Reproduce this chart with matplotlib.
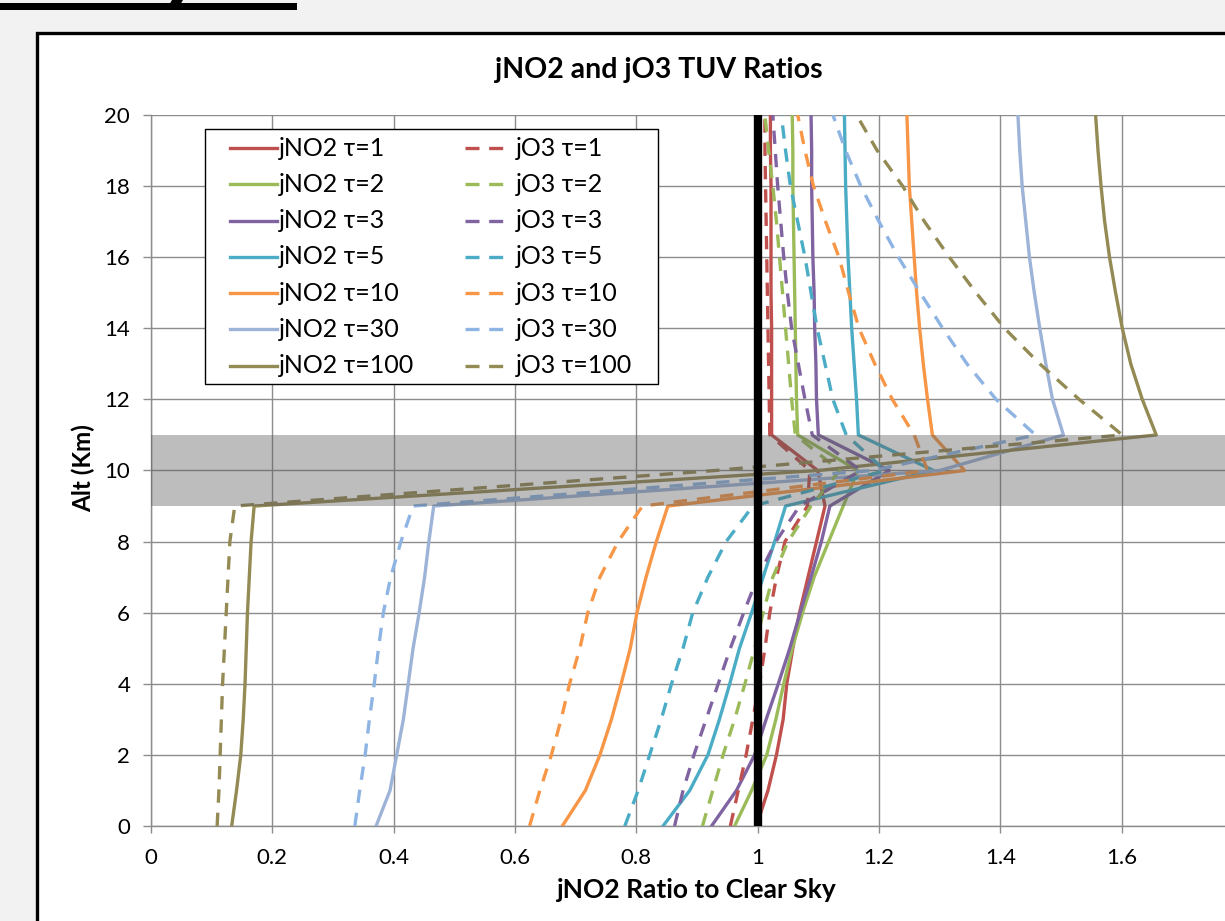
import matplotlib
matplotlib.use("Agg")
import matplotlib.pyplot as plt
from matplotlib.patches import Rectangle, Polygon
from matplotlib.lines import Line2D

plt.rcParams['font.family'] = ['Lato', 'DejaVu Sans']

# ---------------- data ----------------
alt = [0, 1, 2, 3, 4, 5, 6, 7, 8, 9, 10, 11, 12, 13, 14, 15, 16, 17, 18, 19, 20]

taus = ['1', '2', '3', '5', '10', '30', '100']

jno2_t1 = [0.998, 1.017, 1.031, 1.042, 1.048, 1.058, 1.069, 1.083, 1.097, 1.111, 1.099,
           1.023, 1.023, 1.023, 1.023, 1.022, 1.022, 1.022, 1.022, 1.021, 1.021]
jno2_t2 = [0.962, 0.990, 1.015, 1.030, 1.043, 1.057, 1.074, 1.093, 1.117, 1.141, 1.165,
           1.066, 1.064, 1.063, 1.062, 1.061, 1.060, 1.059, 1.058, 1.058, 1.057]
jno2_t3 = [0.924, 0.965, 0.995, 1.014, 1.034, 1.053, 1.070, 1.088, 1.105, 1.119, 1.217,
           1.100, 1.097, 1.096, 1.094, 1.093, 1.091, 1.090, 1.089, 1.089, 1.088]
jno2_t5 = [0.844, 0.888, 0.918, 0.937, 0.954, 0.970, 0.990, 1.009, 1.028, 1.046, 1.290,
           1.166, 1.163, 1.159, 1.155, 1.152, 1.149, 1.147, 1.145, 1.144, 1.143]
jno2_t10 = [0.678, 0.716, 0.740, 0.759, 0.775, 0.790, 0.801, 0.816, 0.833, 0.852, 1.341,
            1.288, 1.280, 1.273, 1.267, 1.262, 1.258, 1.254, 1.250, 1.248, 1.246]
jno2_t30 = [0.371, 0.394, 0.405, 0.416, 0.424, 0.432, 0.442, 0.451, 0.458, 0.466, 1.300,
            1.504, 1.486, 1.475, 1.465, 1.456, 1.448, 1.442, 1.436, 1.432, 1.429]
jno2_t100 = [0.133, 0.141, 0.148, 0.152, 0.155, 0.157, 0.159, 0.162, 0.165, 0.170, 1.100,
             1.657, 1.634, 1.615, 1.601, 1.590, 1.580, 1.572, 1.566, 1.561, 1.557]

jo3_t1 = [0.955, 0.968, 0.981, 0.992, 1.003, 1.012, 1.020, 1.031, 1.045, 1.082, 1.086,
          1.020, 1.019, 1.018, 1.017, 1.016, 1.015, 1.014, 1.013, 1.012, 1.012]
jo3_t2 = [0.909, 0.926, 0.943, 0.962, 0.979, 0.995, 1.009, 1.025, 1.050, 1.088, 1.135,
          1.062, 1.056, 1.051, 1.046, 1.041, 1.036, 1.031, 1.025, 1.018, 1.012]
jo3_t3 = [0.863, 0.877, 0.895, 0.915, 0.935, 0.955, 0.977, 1.000, 1.030, 1.069, 1.170,
          1.090, 1.078, 1.067, 1.056, 1.049, 1.043, 1.038, 1.033, 1.029, 1.025]
jo3_t5 = [0.781, 0.803, 0.822, 0.841, 0.858, 0.877, 0.893, 0.918, 0.948, 0.992, 1.210,
          1.146, 1.124, 1.111, 1.098, 1.088, 1.078, 1.066, 1.054, 1.046, 1.039]
jo3_t10 = [0.624, 0.641, 0.660, 0.676, 0.690, 0.707, 0.720, 0.740, 0.770, 0.810, 1.280,
           1.258, 1.222, 1.193, 1.167, 1.150, 1.134, 1.112, 1.092, 1.078, 1.066]
jo3_t30 = [0.336, 0.344, 0.353, 0.360, 0.368, 0.375, 0.383, 0.395, 0.412, 0.432, 1.190,
           1.458, 1.393, 1.345, 1.305, 1.268, 1.232, 1.200, 1.170, 1.145, 1.124]
jo3_t100 = [0.109, 0.112, 0.114, 0.116, 0.118, 0.121, 0.124, 0.127, 0.130, 0.138, 0.930,
            1.601, 1.530, 1.465, 1.407, 1.360, 1.316, 1.275, 1.239, 1.197, 1.163]

jno2_series = [jno2_t1, jno2_t2, jno2_t3, jno2_t5, jno2_t10, jno2_t30, jno2_t100]
jo3_series = [jo3_t1, jo3_t2, jo3_t3, jo3_t5, jo3_t10, jo3_t30, jo3_t100]

solid_colors = ['#C0504D', '#9BBB59', '#8064A2', '#4BACC6', '#F79646', '#9DB3D7', '#948A54']
dash_colors = ['#C0504D', '#9BBB59', '#8064A2', '#4BACC6', '#F79646', '#8EB4E3', '#948A54']

cloud_bottom, cloud_top = 9, 11
ref_x = 1.0

xticks = [0, 0.2, 0.4, 0.6, 0.8, 1.0, 1.2, 1.4, 1.6]
xticklabels = ['0', '0.2', '0.4', '0.6', '0.8', '1', '1.2', '1.4', '1.6']
yticks = [0, 2, 4, 6, 8, 10, 12, 14, 16, 18, 20]
yticklabels = ['0', '2', '4', '6', '8', '10', '12', '14', '16', '18', '20']

# ---------------- figure ----------------
W, H = 1225, 921
fig = plt.figure(figsize=(W / 100, H / 100), dpi=100)
fig.patch.set_facecolor('#F2F2F2')

def fx(px):
    return px / W

def fy(py):
    return 1 - py / H

# chart area frame
frame = Rectangle((fx(37), fy(1100)), fx(1400), fy(33) - fy(1100),
                  transform=fig.transFigure, facecolor='white',
                  edgecolor='black', linewidth=2.4, zorder=-10)
fig.patches.append(frame)
# stray header fragment at the top-left
fig.patches.append(Rectangle((fx(0), fy(10)), fx(297), fy(3) - fy(10),
                             transform=fig.transFigure, facecolor='black',
                             edgecolor='none', zorder=-5))
fig.patches.append(Polygon([(fx(166), fy(10)), (fx(177), fy(10)), (fx(183), fy(0)), (fx(172), fy(0))],
                           closed=True, transform=fig.transFigure, facecolor='black',
                           edgecolor='none', zorder=-5))

left, right, top, bottom = 151, 1243, 115, 826
ax = fig.add_axes([fx(left), fy(bottom), fx(right - left), fy(top) - fy(bottom)])
ax.set_zorder(1)
ax.set_facecolor('white')
ax.set_xlim(0, 1.8)
ax.set_ylim(0, 20)

grid_c = '#8C8C8C'
TICK_FS = 16
ax.set_xticks(xticks)
ax.set_xticklabels(xticklabels, fontsize=TICK_FS)
ax.set_yticks(yticks)
ax.set_yticklabels(yticklabels, fontsize=TICK_FS)
ax.grid(True, color=grid_c, linewidth=1.0, zorder=0)
ax.set_axisbelow(True)
for s in ['top', 'right']:
    ax.spines[s].set_visible(False)
for s in ['left', 'bottom']:
    ax.spines[s].set_color(grid_c)
    ax.spines[s].set_linewidth(1.0)
ax.tick_params(axis='y', direction='out', length=6, width=1, color=grid_c,
               pad=9, labelcolor='black')
ax.tick_params(axis='x', direction='out', length=5, width=1, color=grid_c,
               pad=11, labelcolor='black')

LW = 2.4
DASH = (0, (4, 3))
for i, t in enumerate(taus):
    ax.plot(jno2_series[i], alt, color=solid_colors[i], linewidth=LW, zorder=3)
for i, t in enumerate(taus):
    ax.plot(jo3_series[i], alt, color=dash_colors[i], linewidth=LW,
            linestyle=DASH, zorder=3)

# cloud layer shading (translucent, over the lines)
ax.axhspan(cloud_bottom, cloud_top, color='#5A5A5A', alpha=0.40, linewidth=0, zorder=4)

# clear-sky reference line
ax.plot([ref_x, ref_x], [alt[0], alt[-1]], color='black', linewidth=6, zorder=5,
        solid_capstyle='butt')

# legend (drawn as a boxed two-column key)
leg_ax = fig.add_axes([0, 0, 1, 1], facecolor='none')
leg_ax.set_zorder(5)
leg_ax.set_xlim(0, W)
leg_ax.set_ylim(H, 0)
leg_ax.axis('off')
leg_ax.add_patch(Rectangle((205, 129), 453, 255, facecolor='white', edgecolor='black',
                           linewidth=1.0))
row_y = [148 + 36.3 * k for k in range(len(taus))]
for k, t in enumerate(taus):
    y = row_y[k]
    leg_ax.add_line(Line2D([230, 277], [y, y], color=solid_colors[k], linewidth=LW))
    leg_ax.text(279, y, 'jNO2 τ=' + t, ha='left', va='center', fontsize=18)
    leg_ax.add_line(Line2D([465, 503], [y, y], color=dash_colors[k], linewidth=LW,
                           linestyle=(0, (4.2, 2.9))))
    leg_ax.text(516, y, 'jO3 τ=' + t, ha='left', va='center', fontsize=18)

fig.text(fx(659), fy(70), 'jNO2 and jO3 TUV Ratios', ha='center', va='center',
         fontsize=20.5, fontweight='bold')
fig.text(fx(697), fy(890), 'jNO2 Ratio to Clear Sky', ha='center', va='center',
         fontsize=19, fontweight='bold')
fig.text(fx(83), fy(468), 'Alt (Km)', ha='center', va='center', rotation=90,
         fontsize=17.5, fontweight='bold')

fig.savefig('out.png', dpi=100, facecolor=fig.get_facecolor())
